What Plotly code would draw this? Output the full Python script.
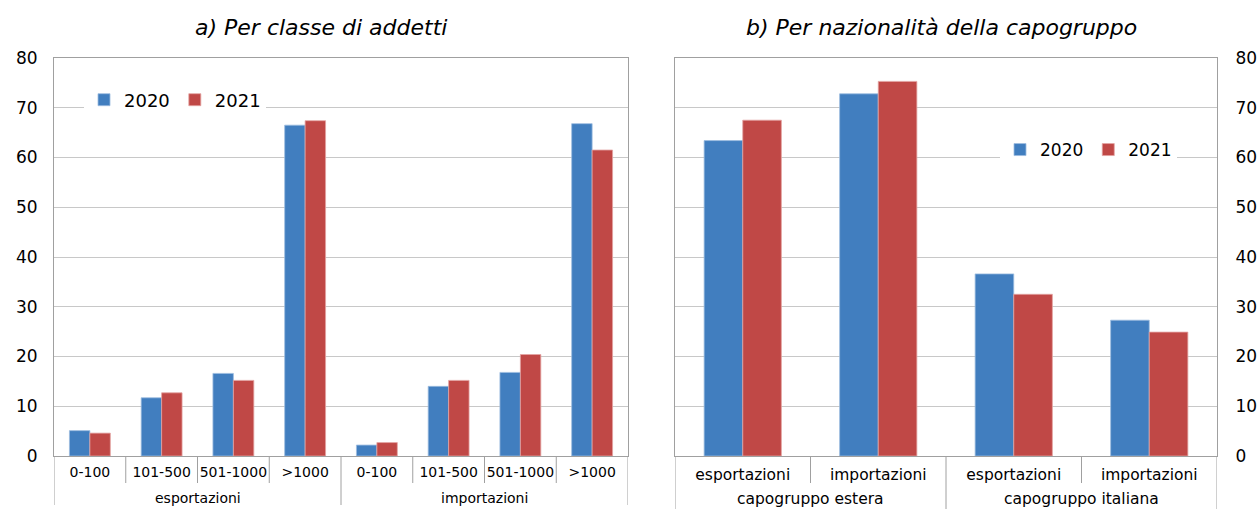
import plotly.graph_objects as go

# ---------------- data ----------------
a_groups = ["esportazioni"] * 4 + ["importazioni"] * 4
a_sub = ["0-100", "101-500", "501-1000", ">1000"] * 2
a_2020 = [5.1, 11.7, 16.6, 66.5, 2.2, 14.0, 16.8, 66.8]
a_2021 = [4.6, 12.7, 15.2, 67.4, 2.7, 15.2, 20.4, 61.5]

b_groups = ["capogruppo estera"] * 2 + ["capogruppo italiana"] * 2
b_sub = ["esportazioni", "importazioni"] * 2
b_2020 = [63.4, 72.8, 36.6, 27.3]
b_2021 = [67.5, 75.3, 32.5, 24.9]

years = ["2020", "2021"]
title_a = "a) Per classe di addetti"
title_b = "b) Per nazionalità della capogruppo"

# ---------------- styling ----------------
W, H = 1259, 509
FONT = "DejaVu Sans"
BLUE = "#417EBF"
RED = "#C04846"
GRID = "#C8C8C8"
LINE = "#A0A0A0"

a_keys = [f"{g}|{s}" for g, s in zip(a_groups, a_sub)]
b_keys = [f"{g}|{s}" for g, s in zip(b_groups, b_sub)]

def px_y(py):
    return 1 - py / H

def px_x(px):
    return px / W

fig = go.Figure()
fig.add_trace(go.Bar(x=a_keys, y=a_2020, name=years[0], marker=dict(color=BLUE, line=dict(color="#9DBCE0", width=0.8)),
                     xaxis="x", yaxis="y", legend="legend"))
fig.add_trace(go.Bar(x=a_keys, y=a_2021, name=years[1], marker=dict(color=RED, line=dict(color="#E3A3A2", width=0.8)),
                     xaxis="x", yaxis="y", legend="legend"))
fig.add_trace(go.Bar(x=b_keys, y=b_2020, name=years[0], marker=dict(color=BLUE, line=dict(color="#9DBCE0", width=0.8)),
                     xaxis="x2", yaxis="y2", legend="legend2"))
fig.add_trace(go.Bar(x=b_keys, y=b_2021, name=years[1], marker=dict(color=RED, line=dict(color="#E3A3A2", width=0.8)),
                     xaxis="x2", yaxis="y2", legend="legend2"))

y_bottom, y_top = 456, 58
xa0, xa1 = 54, 628
xb0, xb1 = 675, 1217

common_x = dict(type="category", showline=True, linecolor=LINE, linewidth=1, mirror=True,
                showgrid=False, ticks="", zeroline=False, fixedrange=True, automargin=False)
common_y = dict(range=[0, 80], dtick=10, showline=True, linecolor=LINE, linewidth=1, mirror=True,
                showgrid=True, gridcolor=GRID, gridwidth=1, zeroline=False, ticks="", automargin=False,
                tickfont=dict(family=FONT, size=17, color="#000"))

fig.update_layout(
    width=W, height=H,
    margin=dict(l=0, r=0, t=0, b=0, autoexpand=False),
    paper_bgcolor="white", plot_bgcolor="white",
    barmode="group", bargap=0.43, bargroupgap=0,
    font=dict(family=FONT, color="#000"),
    xaxis=dict(common_x, domain=[px_x(xa0), px_x(xa1)], anchor="y", range=[-0.5, len(a_keys) - 0.5],
               tickvals=a_keys, ticktext=a_sub, tickfont=dict(family=FONT, size=14, color="#000"),
               ticklabelstandoff=3),
    yaxis=dict(common_y, domain=[px_y(y_bottom), px_y(y_top)], anchor="x", ticklabelstandoff=12),
    xaxis2=dict(common_x, domain=[px_x(xb0), px_x(xb1)], anchor="y2", range=[-0.5, len(b_keys) - 0.5],
                tickvals=b_keys, ticktext=b_sub, tickfont=dict(family=FONT, size=15.5, color="#000"),
                ticklabelstandoff=4),
    yaxis2=dict(common_y, domain=[px_y(y_bottom), px_y(y_top)], anchor="x2", side="right", ticklabelstandoff=14),
    legend=dict(orientation="h", x=px_x(84), y=px_y(100), xanchor="left", yanchor="middle",
                bgcolor="white", font=dict(family=FONT, size=18, color="#000"), itemwidth=30,
                traceorder="normal"),
    legend2=dict(orientation="h", x=px_x(1000), y=px_y(150), xanchor="left", yanchor="middle",
                 bgcolor="white", font=dict(family=FONT, size=17, color="#000"), itemwidth=30,
                 traceorder="normal"),
    showlegend=True,
)

annotations = [
    dict(text=f"<i>{title_a}</i>", x=px_x(321), y=px_y(28), xref="paper", yref="paper",
         xanchor="center", yanchor="middle", showarrow=False, font=dict(family=FONT, size=22, color="#000")),
    dict(text=f"<i>{title_b}</i>", x=px_x(941), y=px_y(28), xref="paper", yref="paper",
         xanchor="center", yanchor="middle", showarrow=False, font=dict(family=FONT, size=22, color="#000")),
]

shapes = []

def add_group_decor(groups, xref, lvl1_bottom, lvl2_bottom, lvl2_center, size):
    n = len(groups)
    # boundaries between sub-categories
    for i in range(n + 1):
        b = i - 0.5
        major = (i == 0 or i == n or groups[i] != groups[i - 1])
        shapes.append(dict(type="line", xref=xref, yref="paper", x0=b, x1=b,
                           y0=px_y(y_bottom), y1=px_y(lvl2_bottom if major else lvl1_bottom),
                           line=dict(color=LINE, width=1)))
    # group labels
    seen = []
    for g in groups:
        if g not in seen:
            seen.append(g)
    for g in seen:
        idx = [i for i, gg in enumerate(groups) if gg == g]
        c = sum(idx) / len(idx)
        annotations.append(dict(text=g, x=c, y=px_y(lvl2_center), xref=xref, yref="paper",
                                xanchor="center", yanchor="middle", showarrow=False,
                                font=dict(family=FONT, size=size, color="#000")))

add_group_decor(a_groups, "x", 483, 505, 498, 14)
add_group_decor(b_groups, "x2", 483, 512, 499, 15.5)

fig.update_layout(annotations=annotations, shapes=shapes)

fig.write_html("out.html", config={"displayModeBar": False},
               post_script="document.body.style.margin='0';document.body.style.overflow='hidden';")
